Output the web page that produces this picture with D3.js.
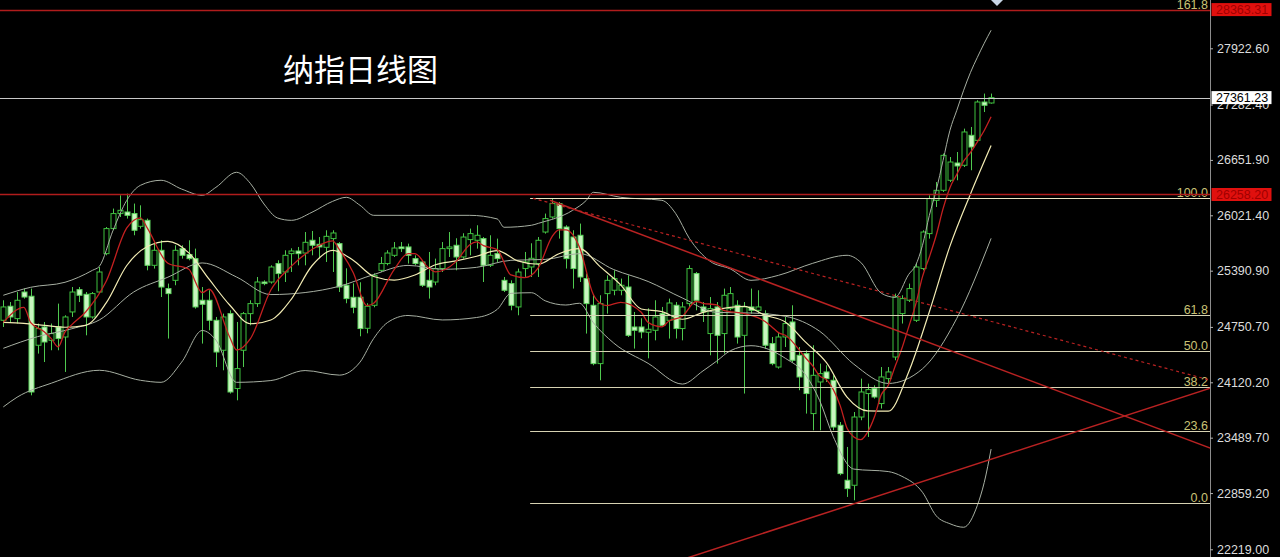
<!DOCTYPE html>
<html><head><meta charset="utf-8">
<script src="https://cdn.jsdelivr.net/npm/d3@7"></script>
<style>html,body{margin:0;padding:0;background:#000;overflow:hidden}</style>
</head><body>
<svg id="chart" width="1280" height="557"></svg>
<script>
// ---------- DATA ----------
const titleText = "纳指日线图";
// daily candles [open, high, low, close]
const candles = [
[24826,25054,24750,24978],[24986,25034,24807,24864],[24845,25148,24789,25054],[25148,25187,25073,25091],[25100,25187,23972,24010],
[24542,24789,24447,24732],[24750,24807,24351,24579],[24598,24789,24485,24675],[24750,25016,24485,24618],[24636,24883,24238,24864],
[24921,25205,24864,25148],[25175,25205,25034,25111],[25122,25148,24655,24864],[24864,25148,24845,25130],[25148,25433,25130,25376],
[25585,25888,25566,25870],[25870,26098,25851,26041],[26041,26249,26002,26078],[26059,26268,25984,26021],[26041,26155,25794,25851],
[25896,26135,25870,25972],[25964,25984,25395,25452],[25452,25717,25415,25623],[25623,25737,25091,25205],[25187,25244,24618,25130],
[25281,25680,25225,25623],[25642,25680,25528,25566],[25575,25737,25509,25528],[25528,25642,24959,24978],[25054,25205,24561,25008],
[25054,25168,24712,24826],[24826,24864,24294,24465],[24485,24902,24257,24864],[24902,24940,23992,24010],[24049,24807,23915,24276],
[24485,24921,24294,24902],[24902,25054,24769,25016],[25016,25319,24978,25262],[25262,25281,25225,25244],[25262,25452,25244,25433],
[25472,25509,25157,25358],[25376,25623,25262,25566],[25585,25646,25376,25615],[25615,25661,25452,25585],[25592,25831,25452,25714],
[25737,25843,25566,25680],[25691,25774,25528,25661],[25657,25851,25490,25782],[25756,25851,25376,25820],[25699,25717,25148,25205],
[25225,25418,25020,25073],[25088,25247,24906,24974],[25088,25259,24644,24732],[24735,25020,24678,24986],[24997,25361,24974,25338],
[25395,25547,25376,25472],[25472,25623,25452,25592],[25566,25717,25547,25649],[25661,25717,25604,25642],[25661,25699,25472,25566],
[25528,25566,25452,25472],[25490,25509,25205,25225],[25281,25604,25073,25205],[25262,25528,25225,25415],[25415,25717,25376,25642],
[25642,25831,25547,25661],[25680,25760,25395,25547],[25547,25817,25528,25774],[25745,25870,25566,25813],[25737,25908,25642,25794],
[25756,25774,25262,25452],[25452,25794,25433,25566],[25585,25756,25490,25528],[25281,25319,25148,25168],[25244,25281,24940,24997],
[24978,25415,24883,25376],[25415,25604,25319,25490],[25433,25703,25319,25532],[25472,25774,25319,25737],[25831,26041,25813,25984],
[26002,26212,25984,26155],[26155,26173,25756,25870],[25888,25908,25415,25528],[25774,25851,25187,25415],[25794,25927,25262,25319],
[25301,25358,24675,25016],[24997,25111,24314,24333],[24333,25111,24143,25016],[25130,25338,24902,25281],[25168,25395,25111,25301],
[25168,25301,25111,25225],[25205,25338,24636,24655],[24750,24921,24504,24712],[24750,24849,24621,24693],[24690,24963,24393,24724],
[24712,25054,24598,24864],[24902,24978,24750,24769],[24826,25073,24618,25023],[24997,25034,24618,24732],[24732,25034,24598,24978],
[25016,25452,24978,25415],[25358,25376,24940,25054],[24978,25034,24807,24921],[24675,25091,24428,24959],[24978,25034,24333,24655],
[24675,25187,24447,25111],[24959,25205,24940,25130],[24997,25054,24561,24636],[24655,25034,23992,24978],[24978,25187,24902,24940],
[24940,25168,24902,24978],[24902,24940,24504,24542],[24561,24636,24314,24333],[24294,24693,24276,24636],[24636,24864,24522,24789],
[24807,24997,24351,24371],[24428,24522,24030,24181],[24447,24485,23764,23992],[23764,24542,23574,24200],[24124,24333,23574,24219],
[24238,24314,24124,24162],[24143,24200,23574,23611],[23631,23668,23062,23081],[23005,23384,22815,22910],[22948,23782,22777,23725],
[23725,24162,23688,24010],[23992,24105,23498,24037],[24049,24086,23935,23953],[23878,24294,23821,24181],[24162,24294,24105,24238],
[24408,25130,24371,25091],[24902,25111,24789,25073],[25054,25244,25034,25187],[24826,25472,24807,25433],[25415,25851,25395,25831],
[25813,26249,25756,26212],[26192,26400,26116,26306],[26306,26724,26287,26704],[26420,26685,26400,26628],[26617,26742,26420,26583],
[26591,27008,26571,26970],[26932,27027,26534,26799],[26875,27331,26856,27311],[27311,27407,27197,27274],[27300,27407,27293,27361]
];
// moving average MA5 [day, value]
const ma5 = [[0,24803],[3,24974],[4,24799],[6,24693],[7,24617],[8,24523],[9,24694],[10,24777],[12,24921],[15,25270],[18,25877],[20,25993],[21,25875],[24,25476],[27,25410],[29,25141],[30,25181],[33,24635],[34,24488],[36,24614],[39,25171],[42,25443],[45,25632],[48,25731],[49,25630],[51,25371],[53,24994],[54,25021],[57,25407],[59,25584],[60,25584],[62,25422],[63,25377],[66,25494],[68,25687],[69,25718],[70,25676],[72,25631],[74,25342],[76,25312],[78,25426],[80,25780],[81,25856],[82,25855],[84,25657],[86,25122],[87,25020],[88,24993],[90,25031],[93,24917],[94,24802],[96,24752],[97,24815],[99,24873],[101,25040],[102,25020],[104,25001],[105,24940],[108,24902],[111,24815],[112,24754],[113,24686],[114,24656],[117,24394],[118,24307],[119,24193],[120,24151],[121,24037],[122,23855],[123,23597],[124,23498],[125,23467],[126,23553],[127,23727],[128,23981],[129,24084],[130,24300],[131,24507],[132,24754],[133,25004],[134,25323],[135,25547],[136,25794],[137,26097],[138,26336],[139,26487],[140,26638],[141,26737],[142,26858],[143,26987],[144,27143]];
// moving average MA10 [day, value]
const ma10 = [[0,24803],[3,24792],[6,24769],[9,24747],[12,24769],[15,25024],[18,25450],[21,25666],[24,25724],[27,25597],[30,25294],[33,25000],[36,24787],[39,24830],[42,25068],[45,25447],[48,25621],[51,25511],[54,25325],[57,25284],[60,25342],[63,25458],[66,25502],[69,25555],[72,25619],[75,25502],[78,25464],[81,25584],[84,25641],[87,25437],[90,25230],[93,24955],[96,24924],[99,24838],[102,24917],[105,24962],[108,24984],[111,24885],[114,24807],[117,24574],[120,24343],[123,23952],[126,23795],[129,23791],[132,24241],[135,24924],[138,25670],[141,26265],[144,26815]];
// Bollinger bands [day, value]
const bbUpper = [[0,25111],[4,25202],[9,25259],[13,25395],[14,25440],[16,25850],[18,26192],[20,26363],[23,26420],[26,26320],[29,26249],[31,26340],[34,26511],[36,26386],[38,26150],[40,25990],[42,25964],[45,26056],[48,26180],[50,26226],[52,26135],[54,26021],[59,26021],[68,26021],[72,25980],[73,25885],[77,25908],[78,25930],[83,26078],[85,26192],[86,26283],[90,26226],[96,26192],[98,26044],[100,25760],[103,25500],[106,25410],[109,25281],[113,25338],[118,25475],[123,25566],[125,25486],[128,25134],[130,25088],[132,25350],[133,25452],[134,25680],[135,26021],[136,26306],[137,26647],[138,26989],[139,27217],[140,27445],[141,27649],[142,27820],[143,27980],[144,28128]];
const bbMiddle = [[0,24507],[5,24640],[10,24730],[14,24830],[19,25148],[24,25317],[29,25479],[34,25319],[39,25119],[44,25142],[49,25214],[54,25347],[59,25451],[64,25407],[69,25429],[74,25509],[79,25519],[84,25585],[89,25403],[94,25268],[99,25080],[104,24916],[109,24909],[114,24872],[119,24702],[124,24326],[129,24107],[134,24274],[139,24848],[144,25759]];
const bbLower = [[0,23840],[2,23950],[7,24110],[14,24257],[20,24143],[23,24120],[26,24350],[29,24710],[31,24600],[34,24120],[39,24140],[44,24254],[49,24202],[52,24350],[54,24620],[56,24800],[59,24881],[64,24830],[69,24858],[72,24950],[74,25133],[77,25140],[79,25048],[82,25000],[84,25020],[86,24800],[89,24566],[94,24336],[99,24100],[102,24250],[104,24362],[106,24480],[109,24537],[114,24394],[117,24200],[119,23914],[121,23500],[124,23132],[129,23104],[131,23050],[134,22868],[136,22600],[138,22510],[140,22470],[142,22720],[143,22980],[144,23360]];
// right axis ticks
const yTicks = [27922.60, 27282.40, 26651.90, 26021.40, 25390.90, 24750.70, 24120.20, 23489.70, 22859.20, 22219.00];
// horizontal price lines
const hLinePrices = [28363.31, 27361.23, 26258.20];
const hLineKinds = ["red", "current", "red"];
// Fibonacci retracement
const fibLow = 22745, fibHigh = 26217, fibStartDay = 76.8;
const fibLevels = [0, 23.6, 38.2, 50.0, 61.8, 100.0, 161.8];
// trend lines [day, price]
const trendDown = [[79.7, 26192], [176, 23369]];
const trendDownDashed = [[77.2, 26215], [176, 24143]];
const trendUp = [[90, 21875], [176, 24055]];

// ---------- DRAW ----------
const W = 1280, H = 557, plotRight = 1210;
const svg = d3.select("#chart");
svg.append("rect").attr("width", W).attr("height", H).attr("fill", "#000");
const x = d3.scaleLinear().domain([0, 144]).range([3.3, 991.1]);
const y = d3.scaleLinear().domain([22219, 27922.6]).range([549.3, 48.3]);

svg.append("defs").append("clipPath").attr("id", "plot")
  .append("rect").attr("x", 0).attr("y", 0).attr("width", plotRight).attr("height", H);
const g = svg.append("g").attr("clip-path", "url(#plot)");

// candles
const bw = 5;
const cg = g.append("g");
candles.forEach((c, i) => {
  const [o, h, l, cl] = c;
  const bull = cl >= o;
  const cx = Math.round(x(i)) + 0.5;
  cg.append("line").attr("x1", cx).attr("x2", cx).attr("y1", y(h)).attr("y2", y(l))
    .attr("stroke", "#4fc94f").attr("stroke-width", 1);
  const top = y(Math.max(o, cl)), bot = y(Math.min(o, cl));
  cg.append("rect").attr("x", cx - bw / 2).attr("y", top).attr("width", bw)
    .attr("height", Math.max(1, bot - top))
    .attr("fill", bull ? "#000" : "#c9f5c0")
    .attr("stroke", bull ? "#3fc23f" : "#5cd45c").attr("stroke-width", 1);
});

const lineGen = d3.line().x(d => x(d[0])).y(d => y(d[1])).curve(d3.curveMonotoneX);
function drawLine(data, color, width) {
  g.append("path").datum(data).attr("d", lineGen).attr("fill", "none")
    .attr("stroke", color).attr("stroke-width", width);
}
drawLine(bbUpper, "#a7afa2", 1);
drawLine(bbMiddle, "#a7afa2", 1);
drawLine(bbLower, "#a7afa2", 1);
drawLine(ma10, "#f3ecb4", 1.2);
drawLine(ma5, "#c42020", 1.3);

// fibonacci
const fibG = g.append("g");
fibLevels.forEach(lv => {
  const p = fibLow + (fibHigh - fibLow) * lv / 100;
  const yy = Math.round(y(p)) + 0.5;
  fibG.append("line").attr("x1", x(fibStartDay)).attr("x2", plotRight)
    .attr("y1", yy).attr("y2", yy).attr("stroke", lv === 100 ? "#efe6c4" : "#d6d2b2").attr("stroke-width", 1);
  fibG.append("text").attr("x", plotRight - 2).attr("y", yy - 2)
    .attr("text-anchor", "end").attr("fill", "#c9c275")
    .attr("font-family", "Liberation Sans, Arial, sans-serif").attr("font-size", "12.5px")
    .text(lv.toFixed(1));
});

// trend lines
const tl = d3.line().x(d => x(d[0])).y(d => y(d[1]));
g.append("path").datum(trendDown).attr("d", tl).attr("stroke", "#b82222").attr("stroke-width", 1.5).attr("fill", "none");
g.append("path").datum(trendDownDashed).attr("d", tl).attr("stroke", "#b82222").attr("stroke-width", 1.2)
  .attr("stroke-dasharray", "3,3").attr("fill", "none");
g.append("path").datum(trendUp).attr("d", tl).attr("stroke", "#b82222").attr("stroke-width", 1.5).attr("fill", "none");

// horizontal lines
hLinePrices.forEach((p, k) => {
  const yy = Math.round(y(p)) + 0.5;
  g.append("line").attr("x1", 0).attr("x2", plotRight).attr("y1", yy).attr("y2", yy)
    .attr("stroke", hLineKinds[k] === "red" ? "#b01c1c" : "#c8c8c8")
    .attr("stroke-width", hLineKinds[k] === "red" ? 1.6 : 1);
});

// title
svg.append("text").attr("x", 283).attr("y", 81).attr("fill", "#fff")
  .attr("font-family", "Noto Sans CJK SC, sans-serif").attr("font-size", "31px").text(titleText);

// top marker
svg.append("path").attr("d", "M991,0 L1003,0 L997,6 Z").attr("fill", "#c8d6e6");

// right axis
svg.append("line").attr("x1", plotRight + 0.5).attr("x2", plotRight + 0.5).attr("y1", 0).attr("y2", H)
  .attr("stroke", "#8c8c8c").attr("stroke-width", 1);
const axis = d3.axisRight(y).tickValues(yTicks).tickFormat(d3.format(".2f")).tickSize(3).tickSizeOuter(0).tickPadding(4);
const ag = svg.append("g").attr("transform", `translate(${plotRight},0)`).call(axis);
ag.select(".domain").remove();
ag.selectAll(".tick line").attr("stroke", "#b0b0b0");
ag.selectAll(".tick text").attr("fill", "#dcdcdc")
  .attr("font-family", "Liberation Sans, Arial, sans-serif").attr("font-size", "12.5px");

// price label boxes
hLinePrices.forEach((p, k) => {
  const yy = y(p);
  const red = hLineKinds[k] === "red";
  svg.append("rect").attr("x", plotRight + 1.5).attr("y", yy - 6.5).attr("width", 60).attr("height", 13)
    .attr("fill", red ? "#e0100e" : "#ffffff");
  svg.append("text").attr("x", plotRight + 6).attr("y", yy).attr("dy", "0.35em")
    .attr("fill", red ? "#a00000" : "#000")
    .attr("font-family", "Liberation Sans, Arial, sans-serif").attr("font-size", "12.5px")
    .text(d3.format(".2f")(p));
});
</script>
</body></html>
